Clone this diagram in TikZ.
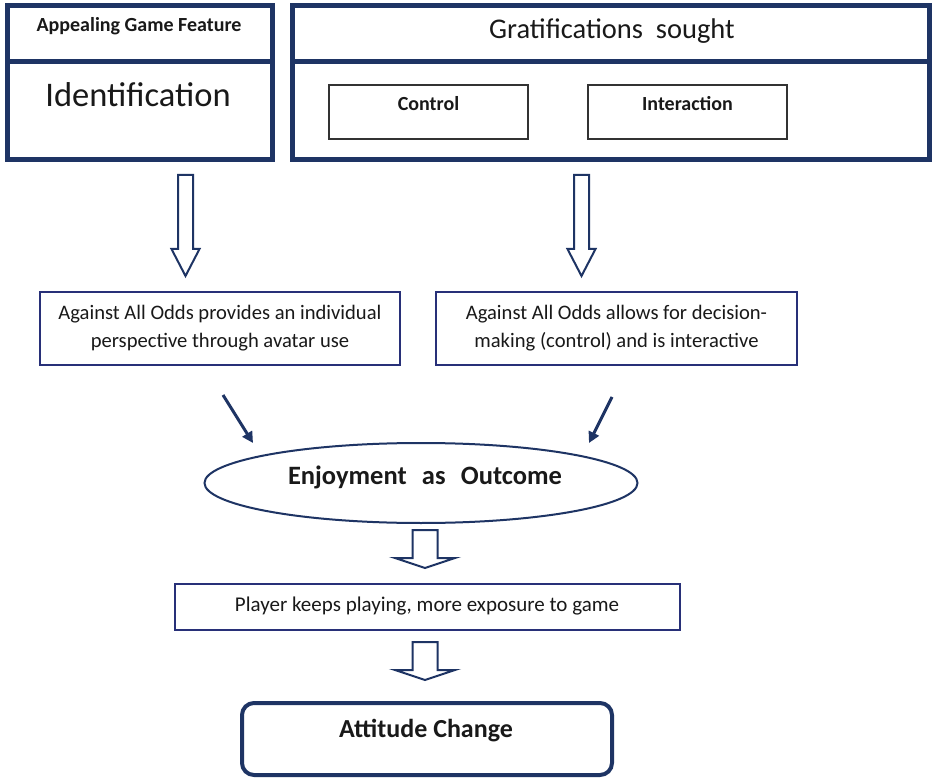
\documentclass[tikz,border=0pt]{standalone}
\usepackage{fontspec}
\setmainfont{Carlito}
\usetikzlibrary{shapes.geometric,arrows.meta}
\definecolor{navy}{RGB}{30,52,100}
\definecolor{navyb}{RGB}{40,48,120}
\definecolor{txt}{RGB}{25,25,25}
\tikzset{
  thickbox/.style={draw=navy,line width=5pt,rectangle,inner sep=0pt},
  thinbox/.style={draw=navyb,line width=2pt,rectangle,inner sep=0pt},
  subbox/.style={draw=black!80,line width=1.2pt,rectangle,inner sep=0pt,minimum width=199pt,minimum height=54pt},
  hollow/.style={draw=navy,line width=2pt,line join=miter,fill=white},
  diag/.style={draw=navy,line width=3pt,-{Triangle[length=11pt,width=11pt]}},
  bodytxt/.style={text=txt,font=\fontsize{20.6}{28}\selectfont,align=center,inner sep=0pt},
  boldtxt/.style={text=txt,font=\bfseries\fontsize{20}{24}\selectfont,inner sep=0pt},
}
\newcommand{\harrow}[6]{% x, top, headstart, tip, shafthalf, headhalf
  \draw[hollow] (#1-#5,#2) -- (#1+#5,#2) -- (#1+#5,#3) -- (#1+#6,#3) -- (#1,#4)
    -- (#1-#6,#3) -- (#1-#5,#3) -- cycle;}
\begin{document}
\begin{tikzpicture}[x=1pt,y=-1pt]
\useasboundingbox (0,0) rectangle (935,778);
\fill[white] (0,0) rectangle (935,778);

% top left
\node[thickbox,minimum width=265pt,minimum height=154pt] (boxL) at (140,82.5) {};
\draw[navy,line width=5pt] (boxL.west |- 0,62) -- (boxL.east |- 0,62);
\node[boldtxt] (appeal) at (139,26) {Appealing Game Feature};
\node[text=txt,font=\fontsize{34.5}{38}\selectfont,inner sep=0pt] (ident) at (138,95) {Identification};

% top right
\node[thickbox,minimum width=636.5pt,minimum height=154pt] (boxR) at (610.75,82.5) {};
\draw[navy,line width=5pt] (boxR.west |- 0,62) -- (boxR.east |- 0,62);
\node[text=txt,font=\fontsize{28.5}{32}\selectfont,inner sep=0pt] (grat) at (612,31) {Gratifications\ \ sought};
\node[subbox] (ctrl) at (428.5,112) {};
\node[boldtxt] (ctrlT) at (428.5,104) {Control};
\node[subbox] (inter) at (687.5,112) {};
\node[boldtxt] (interT) at (687.5,104) {Interaction};

% hollow arrows
\harrow{185.5}{175}{249}{276}{7.5}{14}
\harrow{581.5}{175}{249}{276}{7.5}{14}

% level 2 boxes
\node[thinbox,minimum width=360pt,minimum height=73pt] (L2) at (220,328.5) {};
\node[bodytxt] (L2T) at (220,328) {Against All Odds provides an individual\\perspective through avatar use};
\node[thinbox,minimum width=361pt,minimum height=73pt] (R2) at (616.5,328.5) {};
\node[bodytxt] (R2T) at (616.5,328) {Against All Odds allows for decision-\\making (control) and is interactive};

% diagonal arrows
\coordinate (dl1) at (223,395);
\coordinate (dl2) at (253,443);
\coordinate (dr1) at (612,397);
\coordinate (dr2) at (589,443);
\draw[diag] (dl1) -- (dl2);
\draw[diag] (dr1) -- (dr2);

% ellipse
\node[draw=navy,line width=2pt,ellipse,minimum width=433pt,minimum height=80pt,inner sep=0pt] (enj) at (421,483) {};
\node[text=txt,font=\bfseries\fontsize{26.5}{30}\selectfont,inner sep=0pt] (enjT) at (425,477) {Enjoyment\hspace{0.35em} as\hspace{0.35em} Outcome};

% small hollow arrows
\harrow{425}{530}{558}{568}{12.5}{30}
\node[thinbox,minimum width=505pt,minimum height=46pt] (play) at (427.5,607) {};
\node[bodytxt,font=\fontsize{21}{24}\selectfont] (playT) at (427,606) {Player keeps playing, more exposure to game};
\harrow{425}{642}{670}{680}{12.5}{30}

% attitude change
\node[draw=navy,line width=4pt,rounded corners=12pt,minimum width=370pt,minimum height=72pt,inner sep=0pt] (att) at (427,739) {};
\node[text=txt,font=\bfseries\fontsize{26}{29}\selectfont,inner sep=0pt] (attT) at (426,731) {Attitude Change};
\end{tikzpicture}
\end{document}
